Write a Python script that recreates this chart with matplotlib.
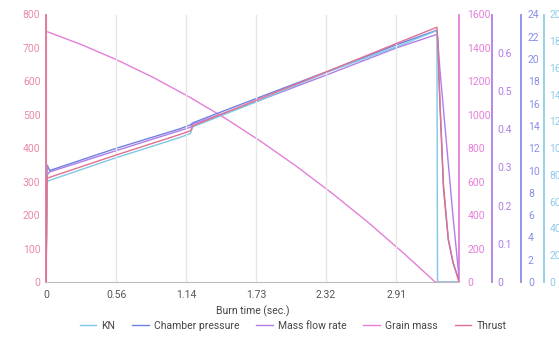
import matplotlib
matplotlib.use('Agg')
import matplotlib.pyplot as plt

plt.rcParams['font.family'] = ['Roboto', 'DejaVu Sans']

# ---- data ----
time_s = [0.0, 0.01, 0.03, 0.59, 1.12, 1.21, 1.23, 1.77, 2.36, 2.94, 3.275, 3.28, 3.30, 3.33, 3.37, 3.41, 3.46]
thrust = [0, 310, 313, 380, 441, 452, 467, 545, 630, 714, 762, 735, 545, 290, 130, 60, 0]
mass_flow_rate = [0, 0.28, 0.288, 0.344, 0.396, 0.405, 0.413, 0.473, 0.543, 0.613, 0.648, 0.643, 0.556, 0.451, 0.311, 0.171, 0.013]
chamber_pressure = [0, 10.5, 10.0, 12.0, 13.74, 14.1, 14.28, 16.5, 18.9, 21.3, 22.6, 21.8, 16.0, 8.4, 3.8, 1.7, 0.15]
kn = [0, 75, 76, 93, 108, 111, 116, 135, 157, 176, 188, 0, 0, 0, 0, 0, 0]

grain_time = [0.0, 0.3, 0.59, 0.9, 1.2, 1.5, 1.8, 2.1, 2.4, 2.7, 3.0, 3.26, 3.46]
grain_mass = [1500, 1419, 1330, 1223, 1107, 980, 841, 691, 529, 356, 170, 0, 0]

xtick_labels = ['0', '0.56', '1.14', '1.73', '2.32', '2.91']
thrust_ticks = [0, 100, 200, 300, 400, 500, 600, 700, 800]
grain_ticks = [0, 200, 400, 600, 800, 1000, 1200, 1400, 1600]
flow_ticks = [0, 0.1, 0.2, 0.3, 0.4, 0.5, 0.6]
flow_labels = ['0', '0.1', '0.2', '0.3', '0.4', '0.5', '0.6']
pressure_ticks = list(range(0, 25, 2))
kn_ticks = list(range(0, 201, 20))

c_kn = '#7ec8e6'
c_pc = '#7080e0'
c_mf = '#b07ee8'
c_gm = '#e47fd9'
c_th = '#e2718f'

fig = plt.figure(figsize=(5.59, 3.43), dpi=100)
ax = fig.add_axes([46/559, 61/343, 413/559, 267.5/343])

tick_step = 0.5867
ax.set_xlim(0, 3.46)
ax.set_xticks([i * tick_step for i in range(len(xtick_labels))], xtick_labels)
ax.grid(axis='x', color='#e6e6e6', lw=1)
ax.set_axisbelow(True)
ax.tick_params(axis='x', length=0, pad=6, labelsize=7.5, labelcolor='#555555')
ax.set_xlabel('Burn time (sec.)', fontsize=7.5, color='#444444', labelpad=4)

def style(a, color, ticks, labels=None, pos=None, side='right', pad=5):
    for s in ['top', 'right', 'left', 'bottom']:
        a.spines[s].set_visible(False)
    a.spines[side].set_visible(True)
    a.spines[side].set_color(color)
    a.spines[side].set_linewidth(1.3)
    if pos is not None:
        a.spines[side].set_position(('axes', pos))
    a.set_yticks(ticks, labels if labels is not None else [str(v) for v in ticks])
    a.tick_params(axis='y', length=0, pad=pad, labelsize=7.5, labelcolor=color)

ax2 = ax.twinx()
ax3 = ax.twinx()
ax4 = ax.twinx()
ax5 = ax.twinx()

l_kn, = ax5.plot(time_s, kn, color=c_kn, lw=1.0)
l_pc, = ax4.plot(time_s, chamber_pressure, color=c_pc, lw=1.0)
l_mf, = ax3.plot(time_s, mass_flow_rate, color=c_mf, lw=1.0)
l_gm, = ax2.plot(grain_time, grain_mass, color=c_gm, lw=1.0)
l_th, = ax.plot(time_s, thrust, color=c_th, lw=1.0)

ax.set_ylim(0, 800)
ax2.set_ylim(0, 1600)
ax3.set_ylim(0, 0.7)
ax4.set_ylim(0, 24)
ax5.set_ylim(0, 200)

style(ax, '#e98aa6', thrust_ticks, side='left', pad=4)
ax.spines['left'].set_color(c_th)
ax.spines['bottom'].set_visible(True)
ax.spines['bottom'].set_color('#bdbdbd')
style(ax2, c_gm, grain_ticks, pad=6)
style(ax3, c_mf, flow_ticks, flow_labels, pos=1.080, pad=4)
style(ax4, '#8a8ee6', pressure_ticks, pos=1.150, pad=5)
style(ax5, '#8fcbe8', kn_ticks, pos=1.206, pad=4)

ax.set_zorder(10)
ax.patch.set_visible(False)

fig.legend([l_kn, l_pc, l_mf, l_gm, l_th],
           ['KN', 'Chamber pressure', 'Mass flow rate', 'Grain mass', 'Thrust'],
           loc='center', bbox_to_anchor=(293/559, 1 - 326/343), ncol=5, frameon=False,
           fontsize=7.5, handlelength=1.6, columnspacing=1.6, handletextpad=0.5,
           labelcolor='#444444')

fig.savefig('out.png', dpi=100)
